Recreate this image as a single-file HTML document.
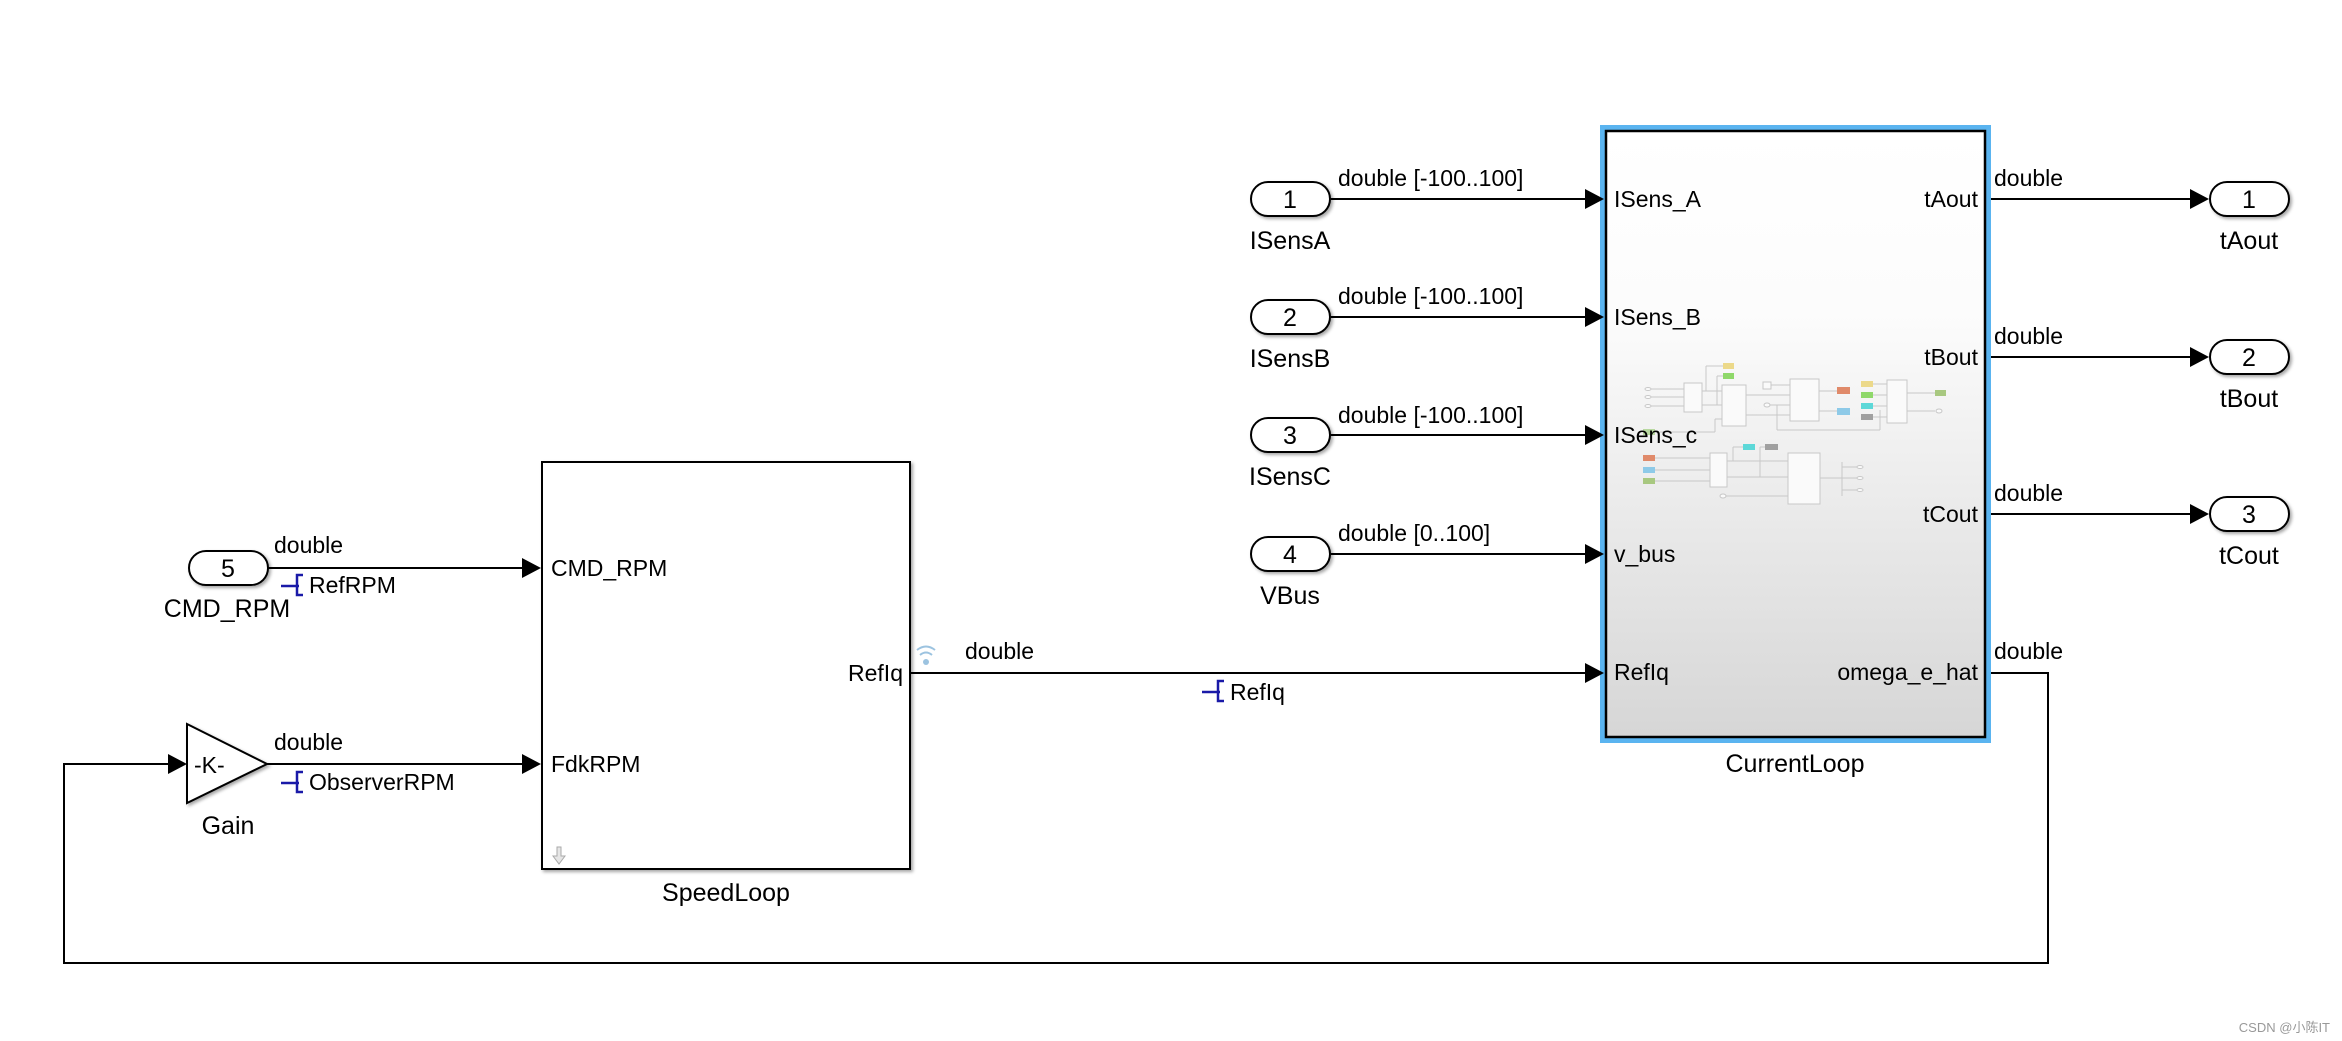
<!DOCTYPE html>
<html><head><meta charset="utf-8"><style>
html,body{margin:0;padding:0;background:#fff;}
svg{display:block;}
text{font-family:"Liberation Sans",Arial,sans-serif;fill:#000;}
</style></head><body>
<svg width="2342" height="1041" viewBox="0 0 2342 1041" xmlns="http://www.w3.org/2000/svg">
<defs>
<linearGradient id="g" x1="0" y1="0" x2="0" y2="1">
<stop offset="0" stop-color="#ffffff"/>
<stop offset="0.3" stop-color="#fcfcfc"/>
<stop offset="1" stop-color="#d6d6d6"/>
</linearGradient>
<filter id="sh" x="-10%" y="-10%" width="130%" height="130%"><feDropShadow dx="2" dy="2" stdDeviation="1.5" flood-color="#000" flood-opacity="0.35"/></filter>
</defs>

<!-- CurrentLoop block -->
<rect x="1602.5" y="127.5" width="386" height="613" fill="none" stroke="#5ab4f0" stroke-width="5"/>
<rect x="1606" y="131" width="379" height="606" fill="url(#g)" stroke="#000" stroke-width="2.5"/>

<!-- thumbnail -->
<g stroke="#c8c8c8" stroke-width="1" fill="#fafafa">
<line x1="1650" y1="389" x2="1684" y2="389"/><line x1="1650" y1="397" x2="1684" y2="397"/><line x1="1650" y1="406" x2="1684" y2="406"/>
<line x1="1702" y1="391" x2="1722" y2="391"/><line x1="1702" y1="405" x2="1722" y2="405"/>
<line x1="1706" y1="366" x2="1706" y2="391"/><line x1="1706" y1="366" x2="1723" y2="366"/>
<line x1="1717" y1="376" x2="1717" y2="405"/><line x1="1717" y1="376" x2="1723" y2="376"/>
<line x1="1746" y1="395" x2="1790" y2="395"/><line x1="1746" y1="415" x2="1790" y2="415"/>
<line x1="1767" y1="385" x2="1790" y2="385"/><line x1="1767" y1="405" x2="1790" y2="405"/>
<line x1="1777" y1="405" x2="1777" y2="430"/><line x1="1777" y1="430" x2="1880" y2="430"/><line x1="1880" y1="430" x2="1880" y2="410"/>
<line x1="1819" y1="391" x2="1837" y2="391"/><line x1="1819" y1="411" x2="1837" y2="411"/>
<line x1="1873" y1="384" x2="1887" y2="384"/><line x1="1873" y1="395" x2="1887" y2="395"/><line x1="1873" y1="406" x2="1887" y2="406"/><line x1="1873" y1="417" x2="1887" y2="417"/>
<line x1="1907" y1="393" x2="1935" y2="393"/><line x1="1907" y1="411" x2="1935" y2="411"/>
<line x1="1660" y1="432" x2="1715" y2="432"/><line x1="1715" y1="432" x2="1715" y2="419"/><line x1="1715" y1="419" x2="1722" y2="419"/>
<line x1="1655" y1="458" x2="1710" y2="458"/><line x1="1655" y1="470" x2="1710" y2="470"/><line x1="1655" y1="481" x2="1710" y2="481"/>
<line x1="1727" y1="461" x2="1788" y2="461"/><line x1="1727" y1="477" x2="1788" y2="477"/><line x1="1733" y1="447" x2="1733" y2="461"/><line x1="1733" y1="447" x2="1743" y2="447"/>
<line x1="1760" y1="447" x2="1760" y2="477"/><line x1="1760" y1="447" x2="1765" y2="447"/>
<line x1="1725" y1="496" x2="1788" y2="496"/>
<line x1="1820" y1="478" x2="1842" y2="478"/><line x1="1842" y1="462" x2="1842" y2="496"/>
<line x1="1842" y1="467" x2="1857" y2="467"/><line x1="1842" y1="478" x2="1857" y2="478"/><line x1="1842" y1="490" x2="1857" y2="490"/>
<rect x="1684" y="383" width="18" height="29"/>
<rect x="1722" y="385" width="24" height="41"/>
<rect x="1790" y="379" width="29" height="42"/>
<rect x="1887" y="380" width="20" height="43"/>
<rect x="1710" y="453" width="17" height="34"/>
<rect x="1788" y="453" width="32" height="51"/>
<rect x="1763" y="382" width="8" height="7"/>
<ellipse cx="1648" cy="389" rx="3" ry="1.5"/><ellipse cx="1648" cy="397" rx="3" ry="1.5"/><ellipse cx="1648" cy="406" rx="3" ry="1.5"/>
<ellipse cx="1767" cy="405" rx="3" ry="2"/><ellipse cx="1939" cy="411" rx="3" ry="2"/><ellipse cx="1723" cy="496" rx="3" ry="2"/>
<ellipse cx="1860" cy="467" rx="3" ry="1.5"/><ellipse cx="1860" cy="478" rx="3" ry="1.5"/><ellipse cx="1860" cy="490" rx="3" ry="1.5"/>
</g>
<g stroke="none">
<rect x="1723" y="363" width="11" height="6" fill="#ecd98a"/>
<rect x="1723" y="373" width="11" height="6" fill="#8fd86a"/>
<rect x="1837" y="387" width="13" height="7" fill="#e08a6a"/>
<rect x="1837" y="408" width="13" height="7" fill="#8ecae8"/>
<rect x="1861" y="381" width="12" height="6" fill="#ecd98a"/>
<rect x="1861" y="392" width="12" height="6" fill="#8fd86a"/>
<rect x="1861" y="403" width="12" height="6" fill="#5dd8d8"/>
<rect x="1861" y="414" width="12" height="6" fill="#a0a0a0"/>
<rect x="1935" y="390" width="11" height="6" fill="#a8c880"/>
<rect x="1743" y="444" width="12" height="6" fill="#5dd8d8"/>
<rect x="1765" y="444" width="13" height="6" fill="#a0a0a0"/>
<rect x="1643" y="455" width="12" height="6" fill="#e08a6a"/>
<rect x="1643" y="467" width="12" height="6" fill="#8ecae8"/>
<rect x="1643" y="478" width="12" height="6" fill="#a8c880"/>
<rect x="1643" y="429" width="12" height="6" fill="#b8d8a0"/>
</g>

<!-- CurrentLoop port labels -->
<g font-size="23">
<text x="1614" y="207">ISens_A</text>
<text x="1614" y="325">ISens_B</text>
<text x="1614" y="443">ISens_c</text>
<text x="1614" y="562">v_bus</text>
<text x="1614" y="680">RefIq</text>
<text x="1978" y="207" text-anchor="end">tAout</text>
<text x="1978" y="365" text-anchor="end">tBout</text>
<text x="1978" y="522" text-anchor="end">tCout</text>
<text x="1978" y="680" text-anchor="end">omega_e_hat</text>
</g>
<text x="1795" y="772" font-size="25" text-anchor="middle">CurrentLoop</text>

<!-- Inports 1-4 -->
<g stroke="#000" stroke-width="2" fill="#fff" filter="url(#sh)">
<rect x="1251" y="182" width="79" height="34" rx="17"/>
<rect x="1251" y="300" width="79" height="34" rx="17"/>
<rect x="1251" y="418" width="79" height="34" rx="17"/>
<rect x="1251" y="537" width="79" height="34" rx="17"/>
<rect x="2210" y="182" width="79" height="34" rx="17"/>
<rect x="2210" y="340" width="79" height="34" rx="17"/>
<rect x="2210" y="497" width="79" height="34" rx="17"/>
<rect x="189" y="551" width="79" height="34" rx="17"/>
</g>
<g font-size="25" text-anchor="middle">
<text x="1290" y="208">1</text><text x="1290" y="326">2</text><text x="1290" y="444">3</text><text x="1290" y="563">4</text>
<text x="2249" y="208">1</text><text x="2249" y="366">2</text><text x="2249" y="523">3</text>
<text x="228" y="577">5</text>
<text x="1290" y="249">ISensA</text><text x="1290" y="367">ISensB</text><text x="1290" y="485">ISensC</text><text x="1290" y="604">VBus</text>
<text x="2249" y="249">tAout</text><text x="2249" y="407">tBout</text><text x="2249" y="564">tCout</text>
<text x="227" y="617">CMD_RPM</text>
<text x="228" y="834">Gain</text>
<text x="726" y="901">SpeedLoop</text>
</g>

<!-- lines -->
<g stroke="#000" stroke-width="2" fill="none">
<line x1="1331" y1="199" x2="1590" y2="199"/>
<line x1="1331" y1="317" x2="1590" y2="317"/>
<line x1="1331" y1="435" x2="1590" y2="435"/>
<line x1="1331" y1="554" x2="1590" y2="554"/>
<line x1="910" y1="673" x2="1590" y2="673"/>
<line x1="1991" y1="199" x2="2195" y2="199"/>
<line x1="1991" y1="357" x2="2195" y2="357"/>
<line x1="1991" y1="514" x2="2195" y2="514"/>
<polyline points="1991,673 2048,673 2048,963 64,963 64,764 172,764"/>
<line x1="268" y1="568" x2="526" y2="568"/>
<line x1="267" y1="764" x2="526" y2="764"/>
</g>
<!-- arrowheads -->
<g fill="#000">
<polygon points="1585,189 1604,199 1585,209"/>
<polygon points="1585,307 1604,317 1585,327"/>
<polygon points="1585,425 1604,435 1585,445"/>
<polygon points="1585,544 1604,554 1585,564"/>
<polygon points="1585,663 1604,673 1585,683"/>
<polygon points="2190,189 2209,199 2190,209"/>
<polygon points="2190,347 2209,357 2190,367"/>
<polygon points="2190,504 2209,514 2190,524"/>
<polygon points="522,558 541,568 522,578"/>
<polygon points="522,754 541,764 522,774"/>
<polygon points="168,754 187,764 168,774"/>
</g>

<!-- SpeedLoop -->
<rect x="542" y="462" width="368" height="407" fill="#fff" stroke="#000" stroke-width="2" filter="url(#sh)"/>
<g font-size="23">
<text x="551" y="576">CMD_RPM</text>
<text x="551" y="772">FdkRPM</text>
<text x="903" y="681" text-anchor="end">RefIq</text>
</g>
<path d="M557 847 v9 h-4 l6 8 l6 -8 h-4 v-9z" fill="#e6e6e6" stroke="#aaa" stroke-width="1"/>

<!-- Gain -->
<polygon points="187,724 267,764 187,803" fill="#fff" stroke="#000" stroke-width="2" filter="url(#sh)"/>
<text x="194" y="773" font-size="23">-K-</text>

<!-- signal labels -->
<g font-size="23">
<text x="1338" y="186">double [-100..100]</text>
<text x="1338" y="304">double [-100..100]</text>
<text x="1338" y="423">double [-100..100]</text>
<text x="1338" y="541">double [0..100]</text>
<text x="1994" y="186">double</text>
<text x="1994" y="344">double</text>
<text x="1994" y="501">double</text>
<text x="1994" y="659">double</text>
<text x="965" y="659">double</text>
<text x="274" y="553">double</text>
<text x="274" y="750">double</text>
<text x="309" y="593">RefRPM</text>
<text x="309" y="790">ObserverRPM</text>
<text x="1230" y="700">RefIq</text>
</g>
<!-- blue log icons -->
<g stroke="#1a1aa8" stroke-width="2.5" fill="none">
<path d="M281 586 h18 M303 575 h-6 v20 h6"/>
<path d="M281 783 h18 M303 772 h-6 v20 h6"/>
<path d="M1202 692 h18 M1224 681 h-6 v20 h6"/>
</g>
<!-- wifi icon -->
<g stroke="#9cc3e0" stroke-width="2" fill="none">
<path d="M917 650 q9 -7 18 0"/><path d="M920 655 q6 -5 12 0"/>
</g>
<circle cx="926" cy="662" r="3" fill="#9cc3e0"/>

<text x="2330" y="1032" font-size="13" text-anchor="end" style="fill:#999" font-family="Liberation Sans, Noto Sans CJK SC, sans-serif">CSDN @小陈IT</text>
</svg>
</body></html>
